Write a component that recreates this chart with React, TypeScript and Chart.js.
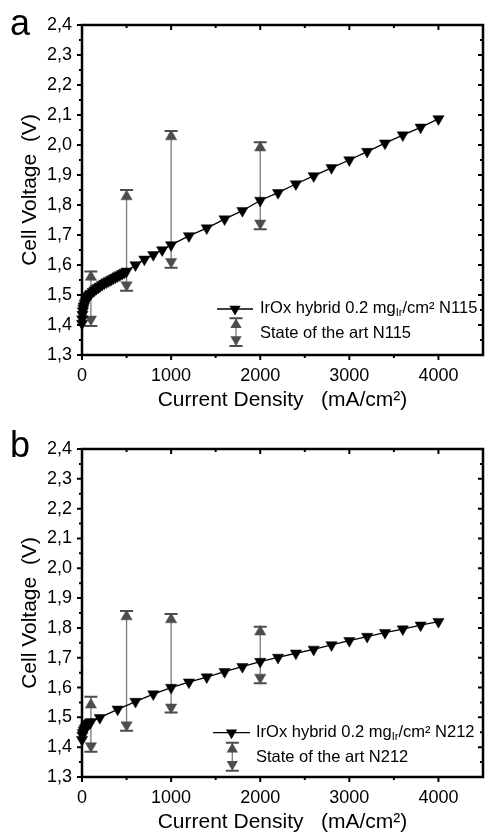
import React, { useEffect, useRef } from "react";
import { Chart, registerables } from "chart.js";

Chart.register(...registerables);

const FONT = "'Liberation Sans', Arial, Helvetica, sans-serif";

// ---- axes ----
const xTickValues = [0, 1000, 2000, 3000, 4000];
const xMinorValues = [500, 1500, 2500, 3500];
const yTickValues = [1.3, 1.4, 1.5, 1.6, 1.7, 1.8, 1.9, 2.0, 2.1, 2.2, 2.3, 2.4];
const yMinorValues = [1.35, 1.45, 1.55, 1.65, 1.75, 1.85, 1.95, 2.05, 2.15, 2.25, 2.35];
const xMin = 0;
const xMax = 4500;
const yMin = 1.3;
const yMax = 2.4;

// ---- panel a: N115 ----
const currentN115 = [0, 2, 5, 10, 15, 20, 30, 40, 50, 60, 70, 80, 90, 100, 120, 140, 160, 180, 200, 225, 250, 275, 300, 325, 350, 375, 400, 425, 450, 475, 500, 600, 700, 800, 900, 1000, 1200, 1400, 1600, 1800, 2000, 2200, 2400, 2600, 2800, 3000, 3200, 3400, 3600, 3800, 4000];
const voltageN115 = [1.405, 1.42, 1.435, 1.447, 1.456, 1.463, 1.472, 1.479, 1.485, 1.49, 1.494, 1.498, 1.502, 1.505, 1.511, 1.516, 1.521, 1.525, 1.529, 1.534, 1.539, 1.543, 1.547, 1.551, 1.555, 1.559, 1.563, 1.567, 1.571, 1.575, 1.579, 1.6, 1.619, 1.634, 1.65, 1.667, 1.697, 1.723, 1.753, 1.781, 1.815, 1.841, 1.87, 1.897, 1.924, 1.95, 1.978, 2.006, 2.033, 2.059, 2.087];
const sotaCurrentN115 = [100, 500, 1000, 2000];
const sotaCapHighN115 = [1.578, 1.85, 2.047, 2.009];
const sotaCapLowN115 = [1.397, 1.514, 1.591, 1.719];
const sotaUpN115 = [1.56, 1.828, 2.028, 1.991];
const sotaDownN115 = [1.419, 1.533, 1.611, 1.739];

// ---- panel b: N212 ----
const currentN212 = [0, 5, 10, 20, 30, 40, 50, 60, 70, 80, 90, 100, 200, 400, 600, 800, 1000, 1200, 1400, 1600, 1800, 2000, 2200, 2400, 2600, 2800, 3000, 3200, 3400, 3600, 3800, 4000];
const voltageN212 = [1.425, 1.44, 1.448, 1.456, 1.462, 1.467, 1.471, 1.474, 1.477, 1.48, 1.482, 1.485, 1.499, 1.527, 1.553, 1.578, 1.6, 1.618, 1.635, 1.653, 1.67, 1.687, 1.701, 1.715, 1.728, 1.743, 1.757, 1.771, 1.784, 1.796, 1.809, 1.821];
const sotaCurrentN212 = [100, 500, 1000, 2000];
const sotaCapHighN212 = [1.569, 1.857, 1.847, 1.804];
const sotaCapLowN212 = [1.385, 1.455, 1.516, 1.614];
const sotaUpN212 = [1.542, 1.838, 1.828, 1.787];
const sotaDownN212 = [1.404, 1.474, 1.534, 1.634];

const xTitle = "Current Density   (mA/cm²)";
const yTitle = "Cell Voltage  (V)";

const MARK_R = 6.5;
const SOTA_FILL = "#4d4d4d";
const SOTA_LINE = "#7a7a7a";
const LEGEND_SIZE = 16.5;

function tri(ctx: CanvasRenderingContext2D, cx: number, cy: number, r: number, up: boolean) {
  const s = r * Math.sin(Math.PI / 3);
  ctx.beginPath();
  if (up) {
    ctx.moveTo(cx, cy - r);
    ctx.lineTo(cx + s, cy + r / 2);
    ctx.lineTo(cx - s, cy + r / 2);
  } else {
    ctx.moveTo(cx, cy + r);
    ctx.lineTo(cx + s, cy - r / 2);
    ctx.lineTo(cx - s, cy - r / 2);
  }
  ctx.closePath();
  ctx.fill();
}

type Legend = {
  lineX1: number; lineX2: number; lineY: number; markerX: number;
  textX: number; textY1: number; symX: number; cap1: number; cap2: number; textY2: number;
};

type Spec = {
  top: number; height: number; areaTop: number; areaBottom: number;
  letter: string; letterY: number; titlePadBottom: number;
  current: number[]; voltage: number[];
  sotaX: number[]; capHigh: number[]; capLow: number[]; up: number[]; down: number[];
  membrane: string; legend: Legend;
};

function Panel({ spec }: { spec: Spec }) {
  const ref = useRef<HTMLCanvasElement>(null);
  useEffect(() => {
    const canvas = ref.current!;
    const s = spec;
    const main = s.current.map((x, i) => ({ x, y: s.voltage[i] }));
    const ups = s.sotaX.map((x, i) => ({ x, y: s.up[i] }));
    const downs = s.sotaX.map((x, i) => ({ x, y: s.down[i] }));

    const errorBars = {
      id: "errorBars",
      beforeDatasetsDraw(chart: any) {
        const { ctx, scales } = chart;
        const xs = scales.x, ys = scales.y;
        ctx.save();
        s.sotaX.forEach((xv, i) => {
          const px = xs.getPixelForValue(xv);
          const hi = ys.getPixelForValue(s.capHigh[i]);
          const lo = ys.getPixelForValue(s.capLow[i]);
          ctx.strokeStyle = SOTA_LINE;
          ctx.lineWidth = 1.3;
          ctx.beginPath();
          ctx.moveTo(px, hi);
          ctx.lineTo(px, lo);
          ctx.stroke();
          ctx.strokeStyle = SOTA_FILL;
          ctx.lineWidth = 2;
          ctx.beginPath();
          ctx.moveTo(px - 6.5, hi);
          ctx.lineTo(px + 6.5, hi);
          ctx.moveTo(px - 6.5, lo);
          ctx.lineTo(px + 6.5, lo);
          ctx.stroke();
        });
        ctx.restore();
      },
    };

    const frame = {
      id: "frame",
      afterDraw(chart: any) {
        const { ctx, chartArea: a, scales } = chart;
        const xs = scales.x, ys = scales.y;
        ctx.save();
        ctx.strokeStyle = "#000";
        ctx.lineWidth = 2.5;
        ctx.strokeRect(a.left, a.top, a.right - a.left, a.bottom - a.top);
        ctx.lineWidth = 2;
        ctx.beginPath();
        const xt = (v: number, len: number) => {
          const px = xs.getPixelForValue(v);
          ctx.moveTo(px, a.bottom);
          ctx.lineTo(px, a.bottom + len);
          ctx.moveTo(px, a.top);
          ctx.lineTo(px, a.top + len);
        };
        const yt = (v: number, len: number) => {
          const py = ys.getPixelForValue(v);
          ctx.moveTo(a.left, py);
          ctx.lineTo(a.left - len, py);
          ctx.moveTo(a.right, py);
          ctx.lineTo(a.right - len, py);
        };
        xTickValues.forEach((v) => xt(v, 5));
        xMinorValues.forEach((v) => xt(v, 3));
        yTickValues.forEach((v) => yt(v, 5));
        yMinorValues.forEach((v) => yt(v, 3));
        ctx.stroke();

        // panel letter
        ctx.fillStyle = "#000";
        ctx.font = `36px ${FONT}`;
        ctx.textBaseline = "alphabetic";
        ctx.textAlign = "left";
        ctx.fillText(s.letter, 10, s.letterY);

        // legend
        const L = s.legend;
        ctx.strokeStyle = "#000";
        ctx.lineWidth = 1.3;
        ctx.beginPath();
        ctx.moveTo(L.lineX1, L.lineY);
        ctx.lineTo(L.lineX2, L.lineY);
        ctx.stroke();
        ctx.fillStyle = "#000";
        tri(ctx, L.markerX, L.lineY, MARK_R, false);

        ctx.textBaseline = "middle";
        ctx.font = `${LEGEND_SIZE}px ${FONT}`;
        let tx = L.textX;
        const p1 = "IrOx hybrid 0.2 mg";
        ctx.fillText(p1, tx, L.textY1);
        tx += ctx.measureText(p1).width;
        ctx.font = `11px ${FONT}`;
        ctx.fillText("Ir", tx, L.textY1 + 5);
        tx += ctx.measureText("Ir").width;
        ctx.font = `${LEGEND_SIZE}px ${FONT}`;
        ctx.fillText("/cm² " + s.membrane, tx, L.textY1);

        // sota symbol
        ctx.strokeStyle = SOTA_LINE;
        ctx.lineWidth = 1.3;
        ctx.beginPath();
        ctx.moveTo(L.symX, L.cap1);
        ctx.lineTo(L.symX, L.cap2);
        ctx.stroke();
        ctx.strokeStyle = SOTA_FILL;
        ctx.lineWidth = 2;
        ctx.beginPath();
        ctx.moveTo(L.symX - 6.5, L.cap1);
        ctx.lineTo(L.symX + 6.5, L.cap1);
        ctx.moveTo(L.symX - 6.5, L.cap2);
        ctx.lineTo(L.symX + 6.5, L.cap2);
        ctx.stroke();
        ctx.fillStyle = SOTA_FILL;
        tri(ctx, L.symX, L.cap1 + MARK_R, MARK_R, true);
        tri(ctx, L.symX, L.cap2 - MARK_R, MARK_R, false);
        ctx.fillStyle = "#000";
        ctx.fillText("State of the art " + s.membrane, L.textX, L.textY2);
        ctx.restore();
      },
    };

    const chart = new Chart(canvas, {
      type: "scatter",
      data: {
        datasets: [
          {
            label: "IrOx hybrid 0.2 mgIr/cm² " + s.membrane,
            data: main,
            showLine: true,
            borderColor: "#000",
            backgroundColor: "#000",
            borderWidth: 1.3,
            pointStyle: "triangle",
            rotation: 180,
            pointRadius: MARK_R,
            pointBorderWidth: 0.5,
            pointBackgroundColor: "#000",
            pointBorderColor: "#000",
            clip: false,
          } as any,
          {
            label: "State of the art max",
            data: ups,
            pointStyle: "triangle",
            rotation: 0,
            pointRadius: MARK_R,
            pointBorderWidth: 0.5,
            pointBackgroundColor: SOTA_FILL,
            pointBorderColor: SOTA_FILL,
            clip: false,
          } as any,
          {
            label: "State of the art min",
            data: downs,
            pointStyle: "triangle",
            rotation: 180,
            pointRadius: MARK_R,
            pointBorderWidth: 0.5,
            pointBackgroundColor: SOTA_FILL,
            pointBorderColor: SOTA_FILL,
            clip: false,
          } as any,
        ],
      },
      options: {
        responsive: false,
        animation: false,
        devicePixelRatio: 1,
        layout: { padding: { top: s.areaTop, right: 1, left: 0, bottom: 0 } },
        plugins: { legend: { display: false }, tooltip: { enabled: false } },
        scales: {
          x: {
            type: "linear",
            min: xMin,
            max: xMax,
            grid: { display: false, drawTicks: false },
            border: { display: false },
            afterBuildTicks: (sc: any) => {
              sc.ticks = xTickValues.map((v) => ({ value: v }));
            },
            afterFit: (sc: any) => {
              sc.height = s.height - s.areaBottom;
            },
            ticks: {
              autoSkip: false,
              maxRotation: 0,
              padding: 10,
              color: "#000",
              font: { family: FONT, size: 18 },
              callback: (v: any) => String(v),
            },
            title: {
              display: true,
              text: xTitle,
              color: "#000",
              font: { family: FONT, size: 21 },
              padding: { top: 0, bottom: s.titlePadBottom },
            },
          },
          y: {
            type: "linear",
            min: yMin,
            max: yMax,
            grid: { display: false, drawTicks: false },
            border: { display: false },
            afterBuildTicks: (sc: any) => {
              sc.ticks = yTickValues.map((v) => ({ value: v }));
            },
            afterFit: (sc: any) => {
              sc.width = 82;
            },
            ticks: {
              autoSkip: false,
              padding: 10,
              color: "#000",
              font: { family: FONT, size: 18 },
              callback: (v: any) => Number(v).toFixed(1).replace(".", ","),
            },
            title: {
              display: true,
              text: yTitle,
              color: "#000",
              font: { family: FONT, size: 21 },
              padding: { top: 17.4, bottom: 0 },
            },
          },
        },
      } as any,
      plugins: [errorBars, frame],
    });
    return () => chart.destroy();
  }, []);
  return (
    <canvas
      ref={ref}
      width={490}
      height={spec.height}
      style={{ position: "absolute", left: 0, top: spec.top, width: 490, height: spec.height }}
    />
  );
}

const specA: Spec = {
  top: 0, height: 415, areaTop: 25, areaBottom: 355,
  letter: "a", letterY: 35, titlePadBottom: 2,
  current: currentN115, voltage: voltageN115,
  sotaX: sotaCurrentN115, capHigh: sotaCapHighN115, capLow: sotaCapLowN115, up: sotaUpN115, down: sotaDownN115,
  membrane: "N115",
  legend: { lineX1: 217, lineX2: 253, lineY: 309, markerX: 235, textX: 260, textY1: 308, symX: 236, cap1: 318.3, cap2: 346, textY2: 333.5 },
};

const specB: Spec = {
  top: 415, height: 420, areaTop: 34, areaBottom: 362,
  letter: "b", letterY: 42, titlePadBottom: 0,
  current: currentN212, voltage: voltageN212,
  sotaX: sotaCurrentN212, capHigh: sotaCapHighN212, capLow: sotaCapLowN212, up: sotaUpN212, down: sotaDownN212,
  membrane: "N212",
  legend: { lineX1: 213, lineX2: 250, lineY: 317.7, markerX: 231.5, textX: 256, textY1: 317, symX: 232.3, cap1: 327.7, cap2: 355.7, textY2: 342 },
};

export default function App() {
  return (
    <div style={{ position: "fixed", left: 0, top: 0, width: 490, height: 835, background: "#fff", overflow: "hidden" }}>
      <Panel spec={specA} />
      <Panel spec={specB} />
    </div>
  );
}
